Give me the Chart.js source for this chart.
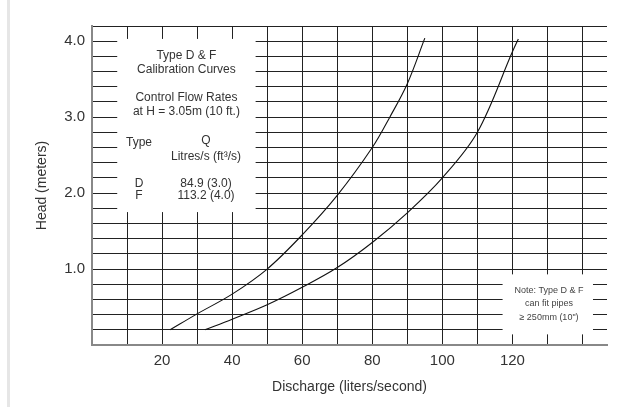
<!DOCTYPE html>
<html lang="en">
<head>
    <meta charset="UTF-8">
    <title>Type D & F Calibration Curves</title>
    <script src="https://cdn.jsdelivr.net/npm/chart.js@4.4.0/dist/chart.umd.min.js"></script>
    <style>
        html, body { margin: 0; padding: 0; background: #fff; }
        .chart-container { position: relative; width: 638px; height: 407px; }
    </style>
</head>
<body>
    <div class="chart-container">
        <canvas id="calibChart"></canvas>
    </div>

    <script>
        // Discharge (l/s) vs head (m)
        const typeDFlow = [22.3, 30, 40, 50, 60, 70, 80, 85, 90, 95];
        const typeDHead = [0.2, 0.41, 0.67, 1.0, 1.45, 1.97, 2.6, 3.0, 3.44, 4.04];
        const typeFFlow = [32.2, 40, 50, 60, 70, 80, 90, 100, 110, 120, 121.7];
        const typeFHead = [0.2, 0.34, 0.53, 0.76, 1.02, 1.35, 1.74, 2.2, 2.8, 3.86, 4.03];
        const xTickLabels = [20, 40, 60, 80, 100, 120];
        const yTickLabels = [1.0, 2.0, 3.0, 4.0];

        const toPoints = (xs, ys) => xs.map((x, i) => ({ x: x, y: ys[i] }));

        const fontFamily = "'Liberation Sans', Arial, sans-serif";

        // white panels with the legend / note text, drawn over the grid
        const panelPlugin = {
            id: 'panels',
            beforeDraw(chart) {
                const ctx = chart.ctx;
                ctx.save();
                ctx.fillStyle = '#e6e6e6';
                ctx.fillRect(7, 0, 3, chart.height);
                ctx.restore();
            },
            beforeDatasetsDraw(chart) {
                const ctx = chart.ctx;
                const xs = chart.scales.x, ys = chart.scales.y;
                ctx.save();
                ctx.fillStyle = '#fff';
                // info box top-left
                let l = xs.getPixelForValue(7.2), r = xs.getPixelForValue(46.7);
                let t = ys.getPixelForValue(4.03), b = ys.getPixelForValue(1.75);
                ctx.fillRect(l, t, r - l, b - t);
                // note box bottom-right
                l = xs.getPixelForValue(117.2); r = xs.getPixelForValue(143);
                t = ys.getPixelForValue(0.93); b = ys.getPixelForValue(0.14);
                ctx.fillRect(l, t, r - l, b - t);

                ctx.fillStyle = '#333';
                ctx.textAlign = 'center';
                ctx.textBaseline = 'middle';
                ctx.font = '12px ' + fontFamily;
                const cx = (xs.getPixelForValue(7.2) + xs.getPixelForValue(46.7)) / 2;
                ctx.fillText('Type D & F', cx, 56);
                ctx.fillText('Calibration Curves', cx, 70);
                ctx.fillText('Control Flow Rates', cx, 98);
                ctx.fillText('at H = 3.05m (10 ft.)', cx, 112);
                ctx.fillText('Type', 139, 143);
                ctx.fillText('Q', 206, 141);
                ctx.fillText('Litres/s (ft\u00B3/s)', 206, 157);
                ctx.fillText('D', 139, 184);
                ctx.fillText('84.9 (3.0)', 206, 184);
                ctx.fillText('F', 139, 196);
                ctx.fillText('113.2 (4.0)', 206, 196);

                ctx.font = '9px ' + fontFamily;
                ctx.fillStyle = '#444';
                ctx.fillText('Note: Type D & F', 549, 291);
                ctx.fillText('can fit pipes', 549, 304);
                ctx.fillText('\u2265 250mm (10")', 549, 318);
                ctx.restore();
            }
        };

        const ctx = document.getElementById('calibChart').getContext('2d');

        new Chart(ctx, {
            type: 'scatter',
            data: {
                datasets: [{
                    label: 'Type D',
                    data: toPoints(typeDFlow, typeDHead),
                    showLine: true,
                    borderColor: '#111',
                    borderWidth: 1.1,
                    pointRadius: 0,
                    tension: 0.35
                }, {
                    label: 'Type F',
                    data: toPoints(typeFFlow, typeFHead),
                    showLine: true,
                    borderColor: '#111',
                    borderWidth: 1.1,
                    pointRadius: 0,
                    tension: 0.35
                }]
            },
            options: {
                responsive: true,
                maintainAspectRatio: false,
                animation: false,
                layout: {
                    padding: { left: 0, right: 31, top: 26, bottom: 11 }
                },
                plugins: {
                    legend: { display: false },
                    tooltip: { enabled: false }
                },
                scales: {
                    x: {
                        type: 'linear',
                        min: 0,
                        max: 147,
                        afterFit: (scale) => { scale.height = 51; },
                        afterBuildTicks: (scale) => {
                            const ticks = [];
                            for (let v = 10; v <= 140; v += 10) ticks.push({ value: v });
                            scale.ticks = ticks;
                        },
                        border: { color: '#888', width: 2 },
                        grid: { color: '#222', lineWidth: 1, drawTicks: false },
                        ticks: {
                            autoSkip: false,
                            maxRotation: 0,
                            padding: 7,
                            color: '#333',
                            font: { family: fontFamily, size: 15 },
                            callback: (v) => xTickLabels.includes(v) ? String(v) : ''
                        },
                        title: {
                            display: true,
                            text: 'Discharge (liters/second)',
                            color: '#333',
                            font: { family: fontFamily, size: 14 },
                            padding: 0
                        }
                    },
                    y: {
                        type: 'linear',
                        min: 0,
                        max: 4.2,
                        afterFit: (scale) => { scale.width = 92; },
                        afterBuildTicks: (scale) => {
                            const ticks = [];
                            for (let i = 1; i <= 21; i++) ticks.push({ value: Math.round(i * 2) / 10 });
                            scale.ticks = ticks;
                        },
                        border: { color: '#888', width: 2 },
                        grid: { color: '#222', lineWidth: 1, drawTicks: false },
                        ticks: {
                            autoSkip: false,
                            padding: 7,
                            color: '#333',
                            font: { family: fontFamily, size: 15 },
                            callback: (v) => yTickLabels.some(t => Math.abs(t - v) < 1e-6) ? v.toFixed(1) : ''
                        },
                        title: {
                            display: true,
                            text: 'Head (meters)',
                            color: '#333',
                            font: { family: fontFamily, size: 14 },
                            padding: { top: 34, bottom: 0 }
                        }
                    }
                }
            },
            plugins: [panelPlugin]
        });
    </script>
</body>
</html>
